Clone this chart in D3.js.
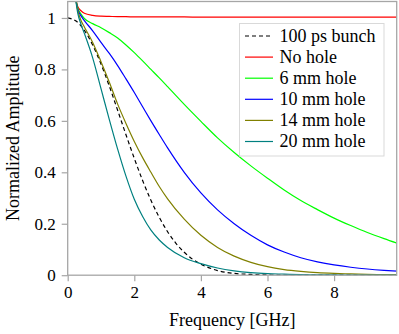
<!DOCTYPE html>
<html>
<head>
<meta charset="utf-8">
<script src="https://cdn.jsdelivr.net/npm/d3@7"></script>
<style>
  html, body { margin: 0; padding: 0; background: #fff; }
</style>
</head>
<body>
<svg id="chart" width="399" height="334"></svg>
<script>
// frequency grid [GHz] and amplitudes
const freqBunch = [0, 0.25, 0.5, 0.75, 1, 1.25, 1.5, 1.75, 2, 2.25, 2.5, 2.75, 3, 3.25, 3.5, 3.75, 4, 4.5, 5, 5.5, 6, 7, 8, 9, 9.9];
const ampBunch = [1, 0.988, 0.952, 0.895, 0.821, 0.735, 0.641, 0.546, 0.454, 0.368, 0.291, 0.225, 0.169, 0.124, 0.089, 0.062, 0.043, 0.018, 0.007, 0.003, 0.001, 0, 0, 0, 0];

const freqHole = [0.22, 0.3, 0.4, 0.5, 0.75, 1, 1.25, 1.5, 1.75, 2, 2.25, 2.5, 2.75, 3, 3.5, 4, 4.5, 5, 5.5, 6, 6.5, 7, 7.5, 8, 8.5, 9, 9.5, 9.9];
const ampNoHole = [1.09, 1.045, 1.028, 1.018, 1.010, 1.007, 1.006, 1.005, 1.005, 1.004, 1.004, 1.004, 1.004, 1.004, 1.004, 1.003, 1.003, 1.003, 1.003, 1.003, 1.003, 1.003, 1.003, 1.003, 1.003, 1.003, 1.003, 1.003];
const amp6mm = [1.09, 1.04, 1.015, 0.998, 0.978, 0.962, 0.943, 0.922, 0.895, 0.865, 0.833, 0.800, 0.767, 0.733, 0.664, 0.598, 0.534, 0.477, 0.425, 0.377, 0.331, 0.290, 0.255, 0.222, 0.193, 0.166, 0.142, 0.124];
const amp10mm = [1.09, 1.035, 1.008, 0.99, 0.95, 0.905, 0.862, 0.815, 0.763, 0.71, 0.655, 0.60, 0.547, 0.495, 0.40, 0.32, 0.254, 0.20, 0.155, 0.118, 0.09, 0.068, 0.052, 0.040, 0.031, 0.024, 0.019, 0.016];
const amp14mm = [1.09, 1.03, 0.99, 0.965, 0.905, 0.83, 0.75, 0.665, 0.59, 0.52, 0.457, 0.40, 0.345, 0.297, 0.218, 0.155, 0.108, 0.074, 0.05, 0.033, 0.022, 0.015, 0.010, 0.007, 0.005, 0.003, 0.002, 0.002];
const amp20mm = [1.09, 1.02, 0.975, 0.94, 0.845, 0.725, 0.605, 0.49, 0.385, 0.295, 0.228, 0.175, 0.137, 0.108, 0.068, 0.045, 0.028, 0.017, 0.010, 0.006, 0.004, 0.002, 0.001, 0.001, 0, 0, 0, 0];

const seriesNames = ['100 ps bunch', 'No hole', '6 mm hole', '10 mm hole', '14 mm hole', '20 mm hole'];
const seriesColors = ['#000000', '#ff0000', '#00ff00', '#0000ff', '#808000', '#008080'];

const xTicks = [0, 2, 4, 6, 8];
const yTicks = [0, 0.2, 0.4, 0.6, 0.8, 1];

const series = [
  { x: freqBunch, y: ampBunch, dash: '4,3' },
  { x: freqHole, y: ampNoHole },
  { x: freqHole, y: amp6mm },
  { x: freqHole, y: amp10mm },
  { x: freqHole, y: amp14mm },
  { x: freqHole, y: amp20mm },
].map((s, i) => ({ ...s, name: seriesNames[i], color: seriesColors[i] }));

const plotLeft = 67.7, plotRight = 396.7, plotTop = 1.5, plotBottom = 275.2;
const axisColor = '#a6a6a6';
const serif = 'Liberation Serif';

const x = d3.scaleLinear().domain([0, 9.88]).range([plotLeft, plotRight]);
const y = d3.scaleLinear().domain([0, 1.064]).range([plotBottom, plotTop]);

const svg = d3.select('#chart');

svg.append('clipPath').attr('id', 'plot-clip')
  .append('rect')
  .attr('x', plotLeft).attr('y', plotTop)
  .attr('width', plotRight - plotLeft).attr('height', plotBottom - plotTop);

const line = d3.line()
  .x((d) => x(d[0]))
  .y((d) => y(d[1]))
  .curve(d3.curveMonotoneX);

const curves = svg.append('g').attr('clip-path', 'url(#plot-clip)');
curves.selectAll('path')
  .data(series)
  .join('path')
  .attr('fill', 'none')
  .attr('stroke', (d) => d.color)
  .attr('stroke-width', 1.2)
  .attr('stroke-dasharray', (d) => d.dash || null)
  .attr('d', (d) => line(d.x.map((f, i) => [f, d.y[i]])));

// axes
const xAxis = svg.append('g')
  .attr('transform', `translate(0,${plotBottom})`)
  .call(d3.axisBottom(x).tickValues(xTicks).tickSize(6).tickSizeOuter(0).tickFormat(d3.format('d')));
const yAxis = svg.append('g')
  .attr('transform', `translate(${plotLeft},0)`)
  .call(d3.axisLeft(y).tickValues(yTicks).tickSize(6).tickSizeOuter(0).tickFormat((d) => (d === 0 || d === 1 ? d : d.toFixed(1))));

[xAxis, yAxis].forEach((g) => {
  g.attr('font-family', serif).attr('font-size', 17);
  g.select('.domain').remove();
  g.selectAll('.tick line').attr('stroke', axisColor).attr('stroke-width', 1.2);
  g.selectAll('.tick text')
    .attr('fill', '#000')
    .style('font-family', serif)
    .style('font-size', '17px');
});
xAxis.selectAll('.tick text').attr('dy', '0.9em').attr('y', 8);
yAxis.selectAll('.tick text').attr('x', -12).attr('dy', '0.32em');

svg.append('rect')
  .attr('x', plotLeft).attr('y', plotTop)
  .attr('width', plotRight - plotLeft).attr('height', plotBottom - plotTop)
  .attr('fill', 'none')
  .attr('stroke', axisColor)
  .attr('stroke-width', 1.3);

svg.append('text')
  .attr('x', (plotLeft + plotRight) / 2).attr('y', 326)
  .attr('text-anchor', 'middle')
  .style('font-family', serif)
  .style('font-size', '18px')
  .text('Frequency [GHz]');

svg.append('text')
  .attr('transform', `translate(19,${(plotTop + plotBottom) / 2}) rotate(-90)`)
  .attr('text-anchor', 'middle')
  .style('font-family', serif)
  .style('font-size', '18px')
  .text('Normalized Amplitude');

// legend
const legend = svg.append('g');
legend.append('rect')
  .attr('x', 239.5).attr('y', 23.5)
  .attr('width', 144.5).attr('height', 132.5)
  .attr('fill', '#fff')
  .attr('stroke', '#d9d9d9')
  .attr('stroke-width', 1);

const rows = legend.selectAll('g.row')
  .data(series)
  .join('g')
  .attr('class', 'row')
  .attr('transform', (d, i) => `translate(0,${36 + i * 21.1})`);

rows.append('line')
  .attr('x1', 245).attr('x2', 273)
  .attr('stroke', (d) => d.color)
  .attr('stroke-width', 1.2)
  .attr('stroke-dasharray', (d) => d.dash || null);

rows.append('text')
  .attr('x', 279.5).attr('dy', '0.32em')
  .style('font-family', serif)
  .style('font-size', '18px')
  .text((d) => d.name);
</script>
</body>
</html>
